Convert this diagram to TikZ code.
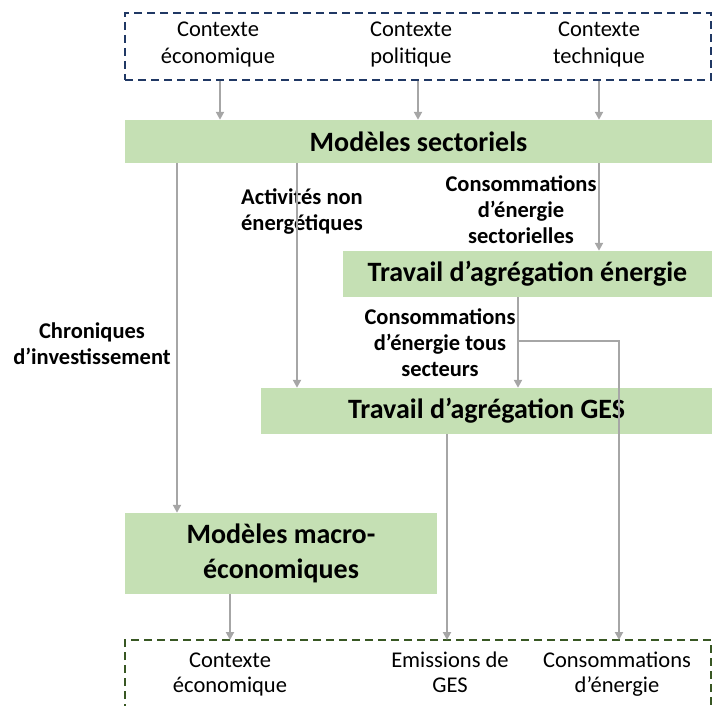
\documentclass[tikz,border=0pt]{standalone}
\usepackage{fontspec}
\setmainfont{Carlito}
\usetikzlibrary{arrows.meta}
\definecolor{boxgreen}{RGB}{197,224,180}
\definecolor{linegray}{RGB}{166,166,166}
\definecolor{navy}{RGB}{32,56,100}
\definecolor{dkgreen}{RGB}{56,87,35}
\tikzset{
  x=1pt,y=-1pt,
  gbox/.style={fill=boxgreen,draw=none,minimum width=#1,inner sep=0pt,font=\fontsize{28}{35}\selectfont\bfseries,align=center},
  arr/.style={draw=linegray,line width=2pt,-{Triangle[width=8pt,length=8pt]}},
  dashbox/.style={line width=2pt,dash pattern=on 8pt off 5pt},
  ctx/.style={font=\fontsize{22.5}{27}\selectfont,align=center,inner sep=0pt,anchor=base},
  ctxb/.style={font=\fontsize{22.5}{25}\selectfont,align=center,inner sep=0pt,anchor=base},
  lbl/.style={font=\fontsize{22.5}{26}\selectfont\bfseries,align=center,inner sep=0pt},
}
\begin{document}
\begin{tikzpicture}
\useasboundingbox (0,0) rectangle (718,706);
% top dashed box
\node[draw=navy,dashbox,minimum width=586,minimum height=67,inner sep=0pt] (top) at (418,46.5) {};
\node[ctx] (t1) at (218,64) {Contexte\\économique};
\node[ctx] (t2) at (411,64) {Contexte\\politique};
\node[ctx] (t3) at (599,64) {Contexte\\technique};
% bottom dashed box (open at bottom)
\coordinate (bl) at (125,712);
\coordinate (br) at (711,712);
\coordinate (btl) at (125,640);
\coordinate (btr) at (711,640);
\draw[draw=dkgreen,dashbox] (bl) -- (btl) -- (btr) -- (br);
\node[ctxb] (b1) at (230,692) {Contexte\\économique};
\node[ctxb] (b2) at (450,692) {Emissions de\\GES};
\node[ctxb] (b3) at (617,692) {Consommations\\d’énergie};
% green boxes
\node[gbox=587,minimum height=43] (ms) at (418.5,141.5) {Modèles sectoriels};
\node[gbox=369,minimum height=46] (en) at (527.5,274) {Travail d’agrégation énergie};
\node[gbox=451,minimum height=46] (ges) at (486.5,411) {Travail d’agrégation GES};
\node[gbox=312,minimum height=81] (mac) at (281,553.5) {Modèles macro-\\économiques};
% labels
\node[lbl] (l1) at (302,211) {Activités non\\énergétiques};
\node[lbl] (l2) at (521,210) {Consommations\\d’énergie\\sectorielles};
\node[lbl] (l3) at (92,344) {Chroniques\\d’investissement};
\node[lbl] (l4) at (440,343) {Consommations\\d’énergie tous\\secteurs};
% arrows from top
\draw[arr] (220,0 |- top.south) -- (220,0 |- ms.north);
\draw[arr] (418,0 |- top.south) -- (418,0 |- ms.north);
\draw[arr] (599,0 |- top.south) -- (599,0 |- ms.north);
% from sectoriels
\draw[arr] (177,0 |- ms.south) -- (177,0 |- mac.north);
\draw[arr] (297,0 |- ms.south) -- (297,0 |- ges.north);
\draw[arr] (599,0 |- ms.south) -- (599,0 |- en.north);
% from energie
\draw[arr] (518,0 |- en.south) -- (518,0 |- ges.north);
\coordinate (br1) at (518,341);
\coordinate (br2) at (619,341);
\draw[arr] (br1) -- (br2) -- (br2 |- btl);
% from GES and macro
\draw[arr] (447,0 |- ges.south) -- (447,0 |- btl);
\draw[arr] (230,0 |- mac.south) -- (230,0 |- btl);
\end{tikzpicture}
\end{document}
